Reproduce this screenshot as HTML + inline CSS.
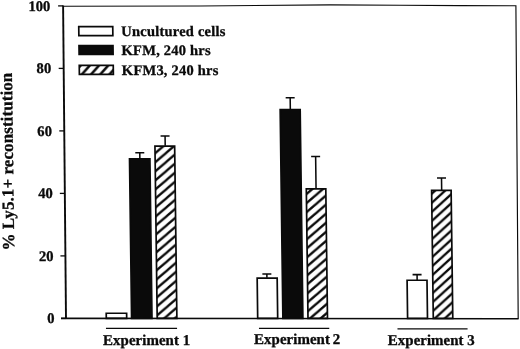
<!DOCTYPE html>
<html lang="en">
<head>
<meta charset="utf-8">
<title>Ly5.1+ reconstitution</title>
<style>
html,body{margin:0;padding:0;background:#fff;}
body{width:520px;height:349px;overflow:hidden;}
svg{display:block;}
text{font-family:"Liberation Serif","DejaVu Serif",serif;font-weight:bold;fill:#0a0a0a;stroke:#0a0a0a;stroke-width:0.3px;}
.tk{font-size:14.7px;text-anchor:end;}
.lg{font-size:14.6px;letter-spacing:0.17px;}
.xl{font-size:15px;}
.yl{font-size:17px;letter-spacing:0.08px;text-anchor:middle;}
</style>
</head>
<body>
<svg width="520" height="349" viewBox="0 0 520 349">
<defs>
<pattern id="h1" patternUnits="userSpaceOnUse" width="10.6" height="9.0" patternTransform="translate(153.7 152.8)"><rect width="10.6" height="9.0" fill="#fff"/><path d="M-5.300,4.500 L5.300,-4.500 M-5.300,13.500 L15.900,-4.500 M5.300,13.500 L15.900,4.500" stroke="#0a0a0a" stroke-width="2.25"/></pattern>
<pattern id="h2" patternUnits="userSpaceOnUse" width="10.6" height="9.0" patternTransform="translate(304.5 193.6)"><rect width="10.6" height="9.0" fill="#fff"/><path d="M-5.300,4.500 L5.300,-4.500 M-5.300,13.500 L15.900,-4.500 M5.300,13.500 L15.900,4.500" stroke="#0a0a0a" stroke-width="2.25"/></pattern>
<pattern id="h3" patternUnits="userSpaceOnUse" width="10.0" height="9.0" patternTransform="translate(429.5 193.5)"><rect width="10.0" height="9.0" fill="#fff"/><path d="M-5.000,4.500 L5.000,-4.500 M-5.000,13.500 L15.000,-4.500 M5.000,13.500 L15.000,4.500" stroke="#0a0a0a" stroke-width="2.25"/></pattern>
<pattern id="hg" patternUnits="userSpaceOnUse" width="9.2" height="10.2" patternTransform="translate(80.9 64.2)"><rect width="9.2" height="10.2" fill="#fff"/><path d="M-4.6,5.1 L4.6,-5.1 M-4.6,15.3 L13.8,-5.1 M4.6,15.3 L13.8,5.1" stroke="#0a0a0a" stroke-width="2.5"/></pattern>
</defs>
<rect width="520" height="349" fill="#fff"/>
<g transform="matrix(1 0 0.013 1 0 0)">
<text class="tk" x="50.3" y="323.40">0</text>
<text class="tk" x="50.3" y="260.90">20</text>
<text class="tk" x="50.3" y="198.40">40</text>
<text class="tk" x="50.3" y="135.90">60</text>
<text class="tk" x="50.3" y="73.40">80</text>
<text class="tk" x="50.3" y="10.90">100</text>
<rect x="102.15" y="313.25" width="20.40" height="5.15" fill="#fff" stroke="#0a0a0a" stroke-width="1.7"/>
<rect x="127.45" y="158.85" width="20.40" height="159.55" fill="#0a0a0a" stroke="#0a0a0a" stroke-width="1.7"/>
<rect x="153.05" y="146.15" width="19.70" height="172.25" fill="url(#h1)" stroke="#0a0a0a" stroke-width="1.7"/>
<rect x="253.55" y="278.05" width="20.00" height="40.35" fill="#fff" stroke="#0a0a0a" stroke-width="1.7"/>
<rect x="278.75" y="109.55" width="20.00" height="208.85" fill="#0a0a0a" stroke="#0a0a0a" stroke-width="1.7"/>
<rect x="303.85" y="188.85" width="19.50" height="129.55" fill="url(#h2)" stroke="#0a0a0a" stroke-width="1.7"/>
<rect x="403.45" y="280.25" width="19.90" height="38.15" fill="#fff" stroke="#0a0a0a" stroke-width="1.7"/>
<rect x="429.15" y="190.35" width="19.50" height="128.05" fill="url(#h3)" stroke="#0a0a0a" stroke-width="1.7"/>
<path d="M133.30,152.70 H142.30 M137.80,152.70 V158.50" fill="none" stroke="#0a0a0a" stroke-width="1.55"/>
<path d="M158.80,136.00 H167.80 M163.30,136.00 V145.80" fill="none" stroke="#0a0a0a" stroke-width="1.55"/>
<path d="M258.80,274.00 H267.80 M263.30,274.00 V277.70" fill="none" stroke="#0a0a0a" stroke-width="1.55"/>
<path d="M284.40,97.80 H293.40 M288.90,97.80 V109.20" fill="none" stroke="#0a0a0a" stroke-width="1.55"/>
<path d="M309.10,156.50 H318.10 M313.60,156.50 V188.50" fill="none" stroke="#0a0a0a" stroke-width="1.55"/>
<path d="M409.00,274.60 H418.00 M413.50,274.60 V279.90" fill="none" stroke="#0a0a0a" stroke-width="1.55"/>
<path d="M434.70,178.00 H443.70 M439.20,178.00 V190.00" fill="none" stroke="#0a0a0a" stroke-width="1.55"/>
<rect x="78.4" y="26.70" width="34" height="9.0" fill="#fff" stroke="#0a0a0a" stroke-width="1.7"/>
<rect x="78.4" y="45.50" width="34" height="9.0" fill="#0a0a0a" stroke="#0a0a0a" stroke-width="1.7"/>
<rect x="78.4" y="65.40" width="34" height="9.0" fill="url(#hg)" stroke="#0a0a0a" stroke-width="1.7"/>
<text class="lg" x="120.9" y="36.0">Uncultured cells</text>
<text class="lg" x="120.9" y="55.2">KFM, 240 hrs</text>
<text class="lg" x="120.9" y="74.8">KFM3, 240 hrs</text>
<line x1="101.7" y1="328.4" x2="172.8" y2="328.4" stroke="#0a0a0a" stroke-width="1.4"/>
<text class="xl" x="98.6" y="345.0" style="word-spacing:0px">Experiment 1</text>
<line x1="254.7" y1="328.4" x2="325.0" y2="328.4" stroke="#0a0a0a" stroke-width="1.4"/>
<text class="xl" x="249.6" y="344.4" style="word-spacing:-1.0px">Experiment 2</text>
<line x1="393.2" y1="328.9" x2="463.3" y2="328.9" stroke="#0a0a0a" stroke-width="1.4"/>
<text class="xl" x="383.3" y="345.0" style="word-spacing:0px">Experiment 3</text>
<text class="yl" transform="translate(11.0 161.6) rotate(-90)" x="0" y="0">% Ly5.1+ reconstitution</text>
</g>
<polyline points="63.1,6.2 200,6.0 330,4.9 400,5.2 460,5.6 515.9,5.8 518.2,318.8" fill="none" stroke="#0a0a0a" stroke-width="1.15" stroke-linejoin="miter"/>
<line x1="63.1" y1="5.6" x2="66.0" y2="319.1" stroke="#0a0a0a" stroke-width="1.9"/>
<line x1="61.0" y1="318.4" x2="518.6" y2="318.8" stroke="#0a0a0a" stroke-width="1.6"/>
<line x1="61.00" y1="318.40" x2="66.00" y2="318.40" stroke="#0a0a0a" stroke-width="1.3"/>
<line x1="60.42" y1="255.90" x2="65.42" y2="255.90" stroke="#0a0a0a" stroke-width="1.3"/>
<line x1="59.84" y1="193.40" x2="64.84" y2="193.40" stroke="#0a0a0a" stroke-width="1.3"/>
<line x1="59.26" y1="130.90" x2="64.26" y2="130.90" stroke="#0a0a0a" stroke-width="1.3"/>
<line x1="58.68" y1="68.40" x2="63.68" y2="68.40" stroke="#0a0a0a" stroke-width="1.3"/>
<line x1="58.10" y1="5.90" x2="63.10" y2="5.90" stroke="#0a0a0a" stroke-width="1.3"/>
</svg>
</body>
</html>
